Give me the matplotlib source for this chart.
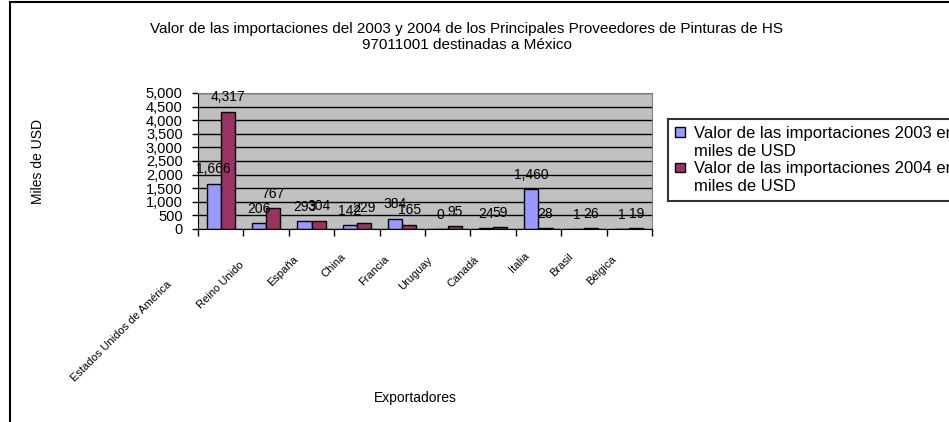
import numpy as np
import matplotlib
matplotlib.use("Agg")
import matplotlib.pyplot as plt
import matplotlib.transforms as mtransforms
from matplotlib.patches import Patch
from matplotlib.lines import Line2D

plt.rcParams['font.family'] = ['Liberation Sans', 'DejaVu Sans']

# datos
paises = ['Estados Unidos de América', 'Reino Unido', 'España', 'China', 'Francia',
          'Uruguay', 'Canadá', 'Italia', 'Brasil', 'Bélgica']
imp_2003 = [1666, 206, 293, 142, 384, 0, 24, 1460, 1, 1]
imp_2004 = [4317, 767, 304, 229, 165, 95, 59, 28, 26, 19]
serie_2003 = ['Valor de las importaciones 2003 en', 'miles de USD']
serie_2004 = ['Valor de las importaciones 2004 en', 'miles de USD']
titulo = ('Valor de las importaciones del 2003 y 2004 de los Principales Proveedores de Pinturas de HS\n'
          '97011001 destinadas a México')

W, H = 949, 422
fig = plt.figure(figsize=(W / 100, H / 100), dpi=100)
ax = fig.add_axes([198 / W, 1 - 229 / H, 454 / W, 136 / H])
ax.set_facecolor('#C0C0C0')

x = np.arange(len(paises))
bw = 0.31
b1 = ax.bar(x - bw / 2, imp_2003, bw, color='#9999FF', edgecolor='black', linewidth=1, zorder=2)
b2 = ax.bar(x + bw / 2, imp_2004, bw, color='#993366', edgecolor='black', linewidth=1, zorder=2)

for bars, vals in ((b1, imp_2003), (b2, imp_2004)):
    for b, v in zip(bars, vals):
        ax.annotate(f'{v:,}', (b.get_x() + b.get_width() / 2, b.get_height()),
                    xytext=(0, 7.5), textcoords='offset points', ha='center',
                    va='baseline', fontsize=10, zorder=3)

ax.set_xlim(-0.5, len(paises) - 0.5)
ax.set_ylim(0, 5000)
ax.set_yticks(np.arange(0, 5001, 500))
ax.set_yticklabels([f'{v:,}' for v in range(0, 5001, 500)])
ax.set_xticks(np.arange(-0.5, len(paises), 1))
ax.set_xticklabels([])
ax.tick_params(axis='y', direction='out', length=4, width=1, labelsize=10.5, pad=7)
ax.tick_params(axis='x', direction='out', length=5, width=1)
ax.set_axisbelow(True)
ax.yaxis.grid(True, color='black', linewidth=1)
for s in ('top', 'right'):
    ax.spines[s].set_color('#808080')
for s in ('left', 'bottom'):
    ax.spines[s].set_color('black')

# etiquetas de categoría giradas
trans = mtransforms.blended_transform_factory(ax.transData, ax.transAxes)
r = fig.canvas.get_renderer()
for i, nombre in enumerate(paises):
    tmp = fig.text(0, 0, nombre, fontsize=8)
    w = tmp.get_window_extent(r).width
    tmp.remove()
    off = mtransforms.offset_copy(trans, fig=fig, x=-1.06 * w, y=-(21 + 0.96 * w), units='dots')
    ax.text(i, 0, nombre, transform=off, rotation=45, rotation_mode='anchor',
            ha='left', va='baseline', fontsize=8)

fig.text(467 / W, 1 - 37 / H, titulo, ha='center', va='center', fontsize=11, linespacing=1.15)
fig.text(38 / W, 1 - 161 / H, 'Miles de USD', rotation=90, ha='center', va='center', fontsize=10)
fig.text(415 / W, 1 - 398 / H, 'Exportadores', ha='center', va='center', fontsize=10)

# leyenda: una fila por línea de texto
vacio = Patch(facecolor='none', edgecolor='none')
handles = [Patch(facecolor='#9999FF', edgecolor='black', linewidth=1), vacio,
           Patch(facecolor='#993366', edgecolor='black', linewidth=1), vacio]
labels = serie_2003 + serie_2004
leg = ax.legend(handles, labels, loc='upper left', bbox_to_anchor=(668 / W, 1 - 119 / H),
                bbox_transform=fig.transFigure, fontsize=12, frameon=True, fancybox=False,
                edgecolor='black', borderaxespad=0, borderpad=0.4, handlelength=0.6,
                handleheight=0.5, handletextpad=0.55, labelspacing=0.17)
leg.get_frame().set_linewidth(1.5)

# borde del gráfico
fig.add_artist(Line2D([10 / W, 10 / W], [0, 1 - 2 / H], color='black', linewidth=1.5))
fig.add_artist(Line2D([10 / W, 1], [1 - 2 / H, 1 - 2 / H], color='black', linewidth=1.5))

fig.savefig('out.png', dpi=100)
